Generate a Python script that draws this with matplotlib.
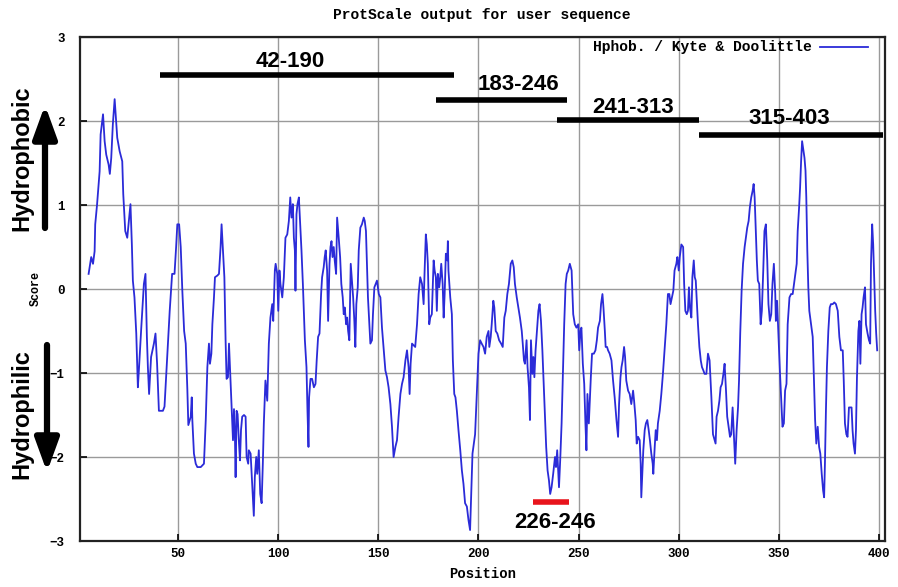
import matplotlib
matplotlib.use("Agg")
import matplotlib.pyplot as plt
from matplotlib.lines import Line2D

# ------------------------------------------------------------------
# Data read off the ProtScale (Kyte & Doolittle) profile
# ------------------------------------------------------------------
position = [
    5.3, 6.6, 7.5, 8.3, 8.6, 9.5, 10.8, 11.3, 12.5, 13.3, 14.1, 15.3, 15.9, 16.6, 17.4,
    18.3, 18.8, 19.6, 20.8, 22.1, 22.6, 23.6, 24.6, 25.4, 26.2, 26.9, 27.4, 28.2, 29.1,
    29.9, 30.4, 31.6, 32.9, 33.7, 34.4, 34.9, 35.5, 36.5, 37.9, 38.7, 39.5, 40.4, 42.4,
    43.2, 44.0, 44.8, 45.8, 47.0, 48.2, 49.0,
    49.6, 50.5, 51.3, 52.1, 53.0, 53.8, 54.6, 55.1, 56.3, 56.8, 57.1, 57.9, 58.8, 59.6,
    61.3, 62.9, 63.8, 64.6, 65.4, 65.9, 66.6, 67.1, 67.9, 68.4, 69.6, 70.4, 71.2, 71.7,
    72.4, 73.1, 73.7, 74.2, 74.9, 75.4, 75.9, 76.5, 77.4, 77.9, 78.4, 78.7, 79.2, 79.7,
    80.4, 80.9, 81.4, 82.0, 82.9, 83.7, 84.2, 85.0, 85.3, 86.2, 87.0, 87.8, 88.3, 89.0,
    89.5, 90.3, 91.0, 91.7, 92.3, 92.8, 93.6, 94.5, 95.3, 96.1, 97.0, 97.5, 98.3,
    98.7, 99.5, 100.0, 100.6, 101.1, 102.0, 102.8, 103.6, 104.5, 105.3, 106.0, 106.6,
    107.3, 107.8, 108.3, 108.6, 109.1, 109.6, 110.3, 110.9, 111.6, 112.3, 113.3, 114.1,
    114.6, 115.1, 115.4, 116.1, 116.9, 117.8, 118.6, 119.2, 119.9, 120.6, 121.4, 121.9,
    122.7, 123.2, 123.7, 124.4, 124.9, 125.6, 126.1, 126.6, 127.1, 127.7, 128.2, 128.9,
    129.4, 130.2, 130.9, 131.5, 132.2, 132.7, 133.2, 133.9, 134.4, 134.9, 135.5, 136.2,
    136.9, 137.4, 138.0, 138.5, 139.0, 139.7, 140.2, 141.0, 141.8, 142.7, 143.2, 143.8,
    144.3, 144.8, 145.5, 146.0, 146.8, 147.3, 148.0,
    149.3, 150.2, 151.0, 151.8, 152.7, 153.5, 154.3, 155.1, 156.0, 156.8, 157.6, 158.5,
    159.3, 160.1, 161.0, 161.8, 162.6, 163.5, 164.3, 165.1, 165.6, 166.1, 166.8, 167.6,
    168.4, 169.3, 170.1, 170.9, 171.8, 172.6, 173.1, 173.7, 174.2, 174.7, 175.4, 175.9,
    176.7, 177.6, 178.1, 178.7, 179.2, 179.7, 180.4, 180.9, 181.4, 182.1, 182.6, 183.1,
    183.7, 184.4, 184.7, 185.0, 185.9, 186.7, 187.2, 187.9, 188.5, 189.2, 190.0, 190.9,
    191.7, 192.5, 193.3, 194.2, 195.0, 195.8, 196.3, 197.0, 197.7, 198.3,
    199.1, 200.0, 200.8, 201.6, 202.5, 203.3, 204.1, 205.0, 205.4, 206.1, 206.6, 207.4,
    207.9, 208.6, 209.4, 210.3, 211.3, 212.1, 212.9, 213.6, 214.4, 215.2, 216.1, 216.9,
    217.6, 218.2, 219.1, 219.9, 220.7, 221.6, 222.1, 222.7, 223.2, 224.0, 224.5, 225.2,
    225.7, 226.2, 226.9, 227.4, 227.9, 228.5, 229.2, 229.9, 230.5, 231.2, 231.9, 232.5,
    233.2, 233.8, 234.5, 235.2, 235.8, 236.5, 237.3, 238.2, 238.7, 239.3, 240.2, 240.8,
    241.5, 242.2, 242.8, 243.5, 244.1, 244.8, 245.6, 246.5, 247.3, 248.1,
    248.9, 249.8, 250.3, 250.9, 251.4, 252.1, 252.8, 253.4, 253.9, 254.4, 255.1, 255.6,
    256.1, 256.7, 257.6, 258.4, 259.1, 259.7, 260.6, 261.2, 261.9, 262.4, 263.1, 263.5,
    264.2, 264.7, 265.5, 266.4, 267.2, 268.0, 268.9, 269.7, 270.2, 270.9, 271.4, 272.0,
    272.7, 273.2, 273.8, 274.7, 275.5, 276.3, 277.2, 277.7, 278.5, 279.0, 279.7, 280.5,
    281.0, 281.3, 281.8, 282.3, 283.0, 283.6, 284.3, 285.0, 285.6, 286.3, 287.0, 287.3,
    288.0, 288.5, 289.1, 289.6, 290.5, 291.3, 292.1, 293.0, 293.8, 294.6, 295.3, 295.9,
    296.6, 297.3, 297.9,
    298.8, 299.3, 300.0, 300.5, 301.3, 302.2, 302.7, 303.3, 304.0, 304.6, 305.1, 305.6,
    306.3, 306.8, 307.5, 308.0, 308.5, 309.1, 309.6, 310.3, 311.0, 311.6, 312.3, 312.9,
    313.8, 314.6, 315.4, 316.3, 317.1, 317.9, 318.4, 318.9, 319.6, 320.3, 320.9, 321.6,
    322.3, 322.9, 323.6, 324.2, 324.9, 325.6, 326.2, 326.9, 327.6, 328.2, 328.9, 329.6,
    330.1, 330.7, 331.4, 332.1, 332.9, 333.5, 334.2, 334.9, 335.5, 336.2, 336.9, 337.4,
    337.9, 338.5, 339.0, 339.5, 340.2, 340.9, 341.5, 342.2, 342.8, 343.5, 344.2, 344.8,
    345.5, 346.2, 346.8, 347.5, 348.2,
    348.5, 349.1, 349.8, 350.5, 351.1, 351.8, 352.5, 353.1, 353.8, 354.4, 355.3, 356.1,
    356.9, 357.8, 358.3, 358.9, 359.4, 360.1, 360.6, 361.1, 361.6, 362.1, 362.8, 363.3,
    363.7, 364.2, 364.7, 365.2, 366.1, 366.9, 367.4, 368.1, 368.7, 369.4, 370.1, 370.7,
    371.4, 372.1, 372.6, 373.0, 373.5, 374.0, 374.7, 375.4, 376.0, 376.9, 377.7, 378.5,
    379.4, 380.2, 381.0, 381.9, 382.4, 383.0, 383.7, 384.3, 385.0, 385.7, 386.3, 386.8,
    387.3, 388.0, 388.5, 389.0, 389.7, 390.2, 390.7, 391.3, 391.8, 392.3, 393.0, 393.5,
    394.3, 395.0, 395.6, 396.0, 396.6, 397.1, 397.6, 398.1, 398.6, 399.1,
]

score = [
    0.18, 0.38, 0.30, 0.45, 0.77, 1.00, 1.40, 1.84, 2.08, 1.76, 1.60, 1.48, 1.37, 1.56, 1.96,
    2.26, 2.08, 1.80, 1.64, 1.52, 1.13, 0.69, 0.61, 0.81, 1.01, 0.53, 0.10, -0.10, -0.53,
    -1.17, -0.97, -0.46, 0.06, 0.18, -0.57, -0.93, -1.25, -0.81, -0.65, -0.53, -0.89, -1.45, -1.45,
    -1.40, -1.05, -0.69, -0.26, 0.18, 0.18, 0.50,
    0.77, 0.77, 0.50, -0.02, -0.50, -0.65, -1.19, -1.62, -1.52, -1.29, -1.56, -1.96, -2.08, -2.12,
    -2.12, -2.08, -1.56, -0.93, -0.65, -0.89, -0.77, -0.42, -0.10, 0.14, 0.16, 0.18, 0.50, 0.77,
    0.46, 0.14, -0.61, -1.07, -1.05, -0.65, -0.93, -1.29, -1.80, -1.43, -1.80, -2.24, -1.45, -1.49,
    -1.84, -2.04, -1.68, -1.52, -1.50, -1.52, -2.00, -2.08, -1.92, -1.96, -2.32, -2.70, -2.24, -2.00,
    -2.20, -1.92, -2.44, -2.55, -2.08, -1.60, -1.09, -1.33, -0.65, -0.34, -0.18, -0.38, 0.22,
    0.30, 0.18, -0.26, 0.22, 0.06, -0.10, 0.14, 0.61, 0.65, 0.81, 1.09, 0.85,
    1.01, 0.61, 0.46, -0.02, 0.89, 1.01, 1.09, 0.81, 0.46, 0.06, -0.61, -0.93,
    -1.45, -1.88, -1.29, -1.07, -1.07, -1.17, -1.13, -0.85, -0.57, -0.53, -0.06, 0.14,
    0.26, 0.38, 0.46, 0.22, -0.38, 0.30, 0.50, 0.57, 0.38, 0.50, 0.34, 0.18,
    0.85, 0.61, 0.38, 0.06, -0.10, -0.30, -0.22, -0.42, -0.34, -0.50, -0.61, 0.30,
    0.06, -0.10, -0.38, -0.69, -0.18, 0.02, 0.46, 0.73, 0.77, 0.85, 0.81, 0.69,
    0.30, -0.10, -0.42, -0.65, -0.61, -0.30, 0.02,
    0.10, -0.06, -0.10, -0.46, -0.73, -0.97, -1.05, -1.17, -1.37, -1.64, -2.00, -1.88,
    -1.80, -1.52, -1.25, -1.13, -1.05, -0.85, -0.73, -0.93, -1.25, -0.89, -0.65, -0.67,
    -0.69, -0.42, -0.06, 0.14, 0.06, -0.18, 0.22, 0.65, 0.53, 0.30, -0.42, -0.34,
    -0.30, 0.34, 0.22, 0.14, -0.26, 0.18, 0.02, 0.14, 0.30, 0.06, -0.34, -0.06,
    0.42, 0.34, 0.57, 0.22, -0.10, -0.30, -0.85, -1.25, -1.29, -1.45, -1.68, -1.92,
    -2.16, -2.32, -2.55, -2.59, -2.75, -2.87, -2.48, -1.96, -1.84, -1.73,
    -1.29, -0.77, -0.61, -0.65, -0.69, -0.77, -0.57, -0.50, -0.69, -0.57, -0.42, -0.14,
    -0.22, -0.50, -0.53, -0.61, -0.65, -0.69, -0.34, -0.26, -0.06, 0.06, 0.30, 0.34,
    0.26, 0.06, -0.10, -0.22, -0.34, -0.50, -0.65, -0.85, -0.89, -0.61, -0.93, -1.17,
    -1.56, -0.61, -1.01, -0.81, -1.05, -0.73, -0.50, -0.26, -0.18, -0.38, -0.73, -1.09,
    -1.49, -1.88, -2.16, -2.28, -2.44, -2.36, -2.20, -2.00, -2.12, -1.92, -2.36, -2.04,
    -1.60, -0.97, -0.42, 0.06, 0.18, 0.22, 0.30, 0.22, -0.30, -0.42,
    -0.46, -0.42, -0.73, -0.50, -0.46, -0.89, -1.13, -1.60, -1.92, -1.25, -1.60, -1.33,
    -1.05, -0.77, -0.77, -0.73, -0.61, -0.46, -0.38, -0.18, -0.06, -0.22, -0.50, -0.69,
    -0.69, -0.73, -0.77, -0.85, -1.09, -1.29, -1.56, -1.76, -1.37, -1.05, -0.93, -0.85,
    -0.69, -0.81, -1.09, -1.21, -1.25, -1.37, -1.21, -1.33, -1.56, -1.84, -1.76, -1.80,
    -2.08, -2.48, -2.20, -1.92, -1.68, -1.60, -1.56, -1.68, -1.80, -1.96, -2.08, -2.20,
    -1.88, -1.68, -1.80, -1.60, -1.45, -1.25, -1.01, -0.69, -0.42, -0.06, -0.06, -0.18,
    -0.10, -0.02, 0.22,
    0.30, 0.38, 0.22, 0.38, 0.53, 0.50, 0.06, -0.26, -0.30, -0.26, 0.02, -0.22,
    -0.34, 0.14, 0.34, 0.14, 0.10, -0.18, -0.42, -0.69, -0.85, -0.93, -0.97, -1.01,
    -1.01, -0.77, -0.85, -1.29, -1.73, -1.80, -1.84, -1.52, -1.45, -1.33, -1.17, -1.13,
    -1.01, -0.89, -1.21, -1.52, -1.64, -1.76, -1.73, -1.41, -1.76, -2.08, -1.68, -1.41,
    -1.09, -0.53, -0.02, 0.30, 0.50, 0.61, 0.73, 0.81, 0.97, 1.09, 1.17, 1.25,
    1.09, 0.69, 0.34, 0.10, 0.06, -0.42, -0.26, 0.22, 0.69, 0.77, 0.34, -0.18,
    -0.38, -0.30, 0.06, 0.30, -0.06,
    -0.38, -0.14, -0.57, -0.97, -1.29, -1.64, -1.60, -1.21, -1.13, -0.42, -0.10, -0.06,
    -0.06, 0.10, 0.18, 0.30, 0.69, 0.97, 1.21, 1.52, 1.76, 1.68, 1.56, 1.41,
    1.09, 0.46, 0.02, -0.26, -0.42, -0.57, -0.97, -1.56, -1.84, -1.64, -1.88, -1.96,
    -2.20, -2.40, -2.48, -2.08, -1.45, -0.93, -0.50, -0.22, -0.18, -0.18, -0.16, -0.18,
    -0.26, -0.57, -0.73, -0.73, -1.09, -1.60, -1.73, -1.76, -1.41, -1.41, -1.41, -1.68,
    -1.84, -1.96, -1.68, -1.05, -0.50, -0.38, -0.89, -0.30, -0.22, -0.10, 0.02, -0.42,
    -0.53, -0.61, -0.65, 0.30, 0.77, 0.53, 0.14, -0.26, -0.53, -0.73,
]

# hand-drawn region bars (as drawn on the figure) and where their labels sit
region_labels = ["42-190", "183-246", "241-313", "315-403"]
region_start = [41, 179, 239, 310]
region_end = [188, 244, 310, 402]
region_level = [2.55, 2.25, 2.01, 1.83]
label_x = [106, 220, 277, 355]
label_y = [2.58, 2.31, 2.04, 1.90]

red_label = "226-246"
red_start, red_end, red_level = 227, 245, -2.53
red_label_x, red_label_y = 238, -2.65

MONO = "Liberation Mono"
BOLD_SANS = "Liberation Sans"
BLUE = "#2b2bd8"

# ------------------------------------------------------------------
# Figure
# ------------------------------------------------------------------
W, H = 898, 587
fig = plt.figure(figsize=(W / 100, H / 100), dpi=100)
ax = fig.add_axes([80 / W, (H - 541) / H, 805 / W, 504 / H])

ax.plot(position, score, color=BLUE, linewidth=1.3, zorder=3)

ax.set_xlim(1, 403)
ax.set_ylim(-3, 3)
ax.set_xticks(range(50, 401, 50))
ax.set_yticks(range(-3, 4))
ax.grid(True, color="#9a9a9a", linewidth=1.0)
ax.set_axisbelow(True)
for sp in ax.spines.values():
    sp.set_linewidth(1.6)
    sp.set_color("#222222")

ax.tick_params(axis="both", direction="in", length=5, width=1.2, labelsize=9)
ax.tick_params(axis="x", pad=5)
ax.tick_params(axis="y", pad=11)
for lab in ax.get_xticklabels() + ax.get_yticklabels():
    lab.set_family(MONO)
    lab.set_fontweight("bold")

ax.set_xlabel("Position", family=MONO, fontweight="bold", fontsize=10, labelpad=5)
ax.set_ylabel("Score", family=MONO, fontweight="bold", fontsize=8.5, labelpad=6)
fig.text(482 / W, 1 - 15 / H, "ProtScale output for user sequence",
         ha="center", va="center", family=MONO, fontweight="bold", fontsize=10.5)

# legend: text then line sample
ax.text(0.909, 0.980, "Hphob. / Kyte & Doolittle", transform=ax.transAxes,
        ha="right", va="center", family=MONO, fontweight="bold", fontsize=10.5)
ax.add_line(Line2D([0.919, 0.979], [0.980, 0.980], transform=ax.transAxes,
                   color=BLUE, linewidth=1.3))

# region bars
for lab, x0, x1, yv, tx, ty in zip(region_labels, region_start, region_end,
                                   region_level, label_x, label_y):
    ax.hlines(yv, x0, x1, color="black", linewidth=4, zorder=4, clip_on=False)
    ax.text(tx, ty, lab, ha="center", va="bottom",
            family=BOLD_SANS, fontweight="bold", fontsize=16, zorder=5)

ax.hlines(red_level, red_start, red_end, color="#e8141c", linewidth=4, zorder=4)
ax.text(red_label_x, red_label_y, red_label, ha="center", va="top",
        family=BOLD_SANS, fontweight="bold", fontsize=16, zorder=5)

# hydrophobic / hydrophilic side labels with arrows
fig.text(22 / W, 1 - 158 / H, "Hydrophobic", rotation=90, ha="center", va="center",
         family=BOLD_SANS, fontweight="bold", fontsize=17)
fig.text(22 / W, 1 - 414 / H, "Hydrophilic", rotation=90, ha="center", va="center",
         family=BOLD_SANS, fontweight="bold", fontsize=17)
arrow = dict(arrowstyle="-|>,head_width=0.4,head_length=1.1", lw=4.5,
             color="black", mutation_scale=18, shrinkA=0, shrinkB=0)
fig.add_artist(plt.Annotation("", xy=(45 / W, 1 - 105 / H), xytext=(45 / W, 1 - 228 / H),
                              xycoords="figure fraction", textcoords="figure fraction",
                              arrowprops=arrow))
fig.add_artist(plt.Annotation("", xy=(47 / W, 1 - 472 / H), xytext=(47 / W, 1 - 345 / H),
                              xycoords="figure fraction", textcoords="figure fraction",
                              arrowprops=arrow))

fig.savefig("out.png", dpi=100, facecolor="white")
